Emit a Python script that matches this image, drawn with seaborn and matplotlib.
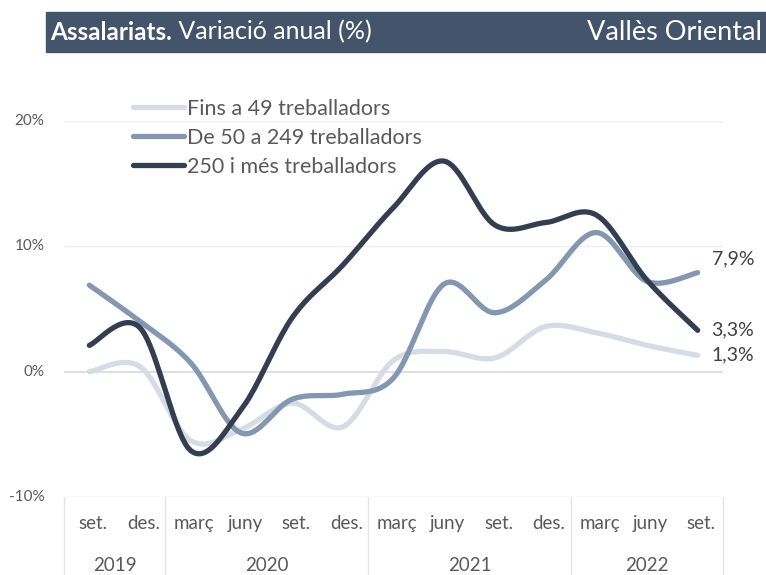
import numpy as np
import pandas as pd
import matplotlib.pyplot as plt
import seaborn as sns
from matplotlib.patches import Rectangle
from matplotlib.lines import Line2D

# quarterly categories (set. 2019 - set. 2022)
months = ['set.', 'des.', 'març', 'juny', 'set.', 'des.', 'març', 'juny',
          'set.', 'des.', 'març', 'juny', 'set.']
years = ['2019', '2020', '2021', '2022']
year_sizes = [2, 4, 4, 3]

# annual variation (%) by company size
fins_49 = [0.0, 0.4, -5.5, -4.6, -2.5, -4.4, 0.9, 1.6, 1.1, 3.6, 3.1, 2.1, 1.3]
de_50_249 = [6.9, 4.0, 0.7, -4.9, -2.2, -1.8, -0.5, 7.0, 4.7, 7.3, 11.1, 7.2, 7.9]
mes_250 = [2.1, 3.5, -6.3, -3.0, 4.3, 8.5, 13.1, 16.8, 11.7, 11.9, 12.5, 7.3, 3.3]

series_names = ['Fins a 49 treballadors', 'De 50 a 249 treballadors',
                '250 i més treballadors']
series_values = [fins_49, de_50_249, mes_250]
colors = ['#D6DCE5', '#8497B0', '#333F50']

FONT = 'Lato'
GREY = '#595959'


def smooth(x, y, steps=20):
    """Excel-like smoothed line (Catmull-Rom through the data points)."""
    x = np.asarray(x, float)
    y = np.asarray(y, float)
    px = np.concatenate([[x[0]], x, [x[-1]]])
    py = np.concatenate([[y[0]], y, [y[-1]]])
    xs, ys = [], []
    for i in range(1, len(px) - 2):
        t = np.linspace(0, 1, steps, endpoint=False)
        for p, out in ((px, xs), (py, ys)):
            p0, p1, p2, p3 = p[i - 1], p[i], p[i + 1], p[i + 2]
            c1 = p1 + (p2 - p0) / 6
            c2 = p2 - (p3 - p1) / 6
            out.extend((1 - t) ** 3 * p1 + 3 * (1 - t) ** 2 * t * c1
                       + 3 * (1 - t) * t ** 2 * c2 + t ** 3 * p2)
    xs.append(x[-1])
    ys.append(y[-1])
    return np.array(xs), np.array(ys)


sns.set_theme(style='white')
plt.rcParams['font.family'] = [FONT, 'DejaVu Sans']

fig = plt.figure(figsize=(7.66, 5.75), dpi=100)
W, H = 766, 575
ax = fig.add_axes([64 / W, 1 - 497 / H, (723 - 64) / W, (497 - 121) / H])

pos = np.arange(len(months))
rows = []
for name, vals in zip(series_names, series_values):
    sx, sy = smooth(pos, vals)
    rows.append(pd.DataFrame({'x': sx, 'y': sy, 'serie': name}))
df = pd.concat(rows, ignore_index=True)

sns.lineplot(data=df, x='x', y='y', hue='serie', palette=colors, sort=False,
             estimator=None, linewidth=3.8, legend=False, ax=ax,
             solid_capstyle='round')

ax.set_xlim(-0.5, len(months) - 0.5)
ax.set_ylim(-10, 20)
ax.set_yticks([-10, 0, 10, 20])
ax.set_yticklabels(['-10%', '0%', '10%', '20%'], fontsize=11, color=GREY)
ax.tick_params(axis='y', length=0, pad=14)
for lab in ax.get_yticklabels():
    lab.set_verticalalignment('center')
ax.set_xticks([])
ax.set_xlabel('')
ax.set_ylabel('')
for s in ax.spines.values():
    s.set_visible(False)
for v in (10, 20):
    ax.axhline(v, color='#EFEFEF', linewidth=1, zorder=0)
ax.axhline(0, color='#D9D9D9', linewidth=1.2, zorder=0)
ax.axhline(-10, color='#E4E4E4', linewidth=1, zorder=0)

# two-level category axis
trans = ax.get_xaxis_transform()
for p, m in zip(pos, months):
    ax.text(p + 0.07, -0.07, m, transform=trans, ha='center', va='center',
            fontsize=13.5, color=GREY)
edges = np.concatenate([[0], np.cumsum(year_sizes)]) - 0.5
for e in edges:
    ax.add_line(Line2D([e, e], [0, -0.21], transform=trans, color='#E4E4E4',
                       linewidth=1, clip_on=False))
for y, a, b in zip(years, edges[:-1], edges[1:]):
    ax.text((a + b) / 2, -0.182, y, transform=trans, ha='center',
            va='center', fontsize=13.5, color=GREY)

# end labels
offsets = [0, 10, 0]
for i in range(3):
    v = series_values[i][-1]
    ax.annotate(f'{v:.1f}%'.replace('.', ','), xy=(pos[-1], v),
                xytext=(10, offsets[i]), textcoords='offset points',
                ha='left', va='center', fontsize=14, color='#404040',
                annotation_clip=False)

# legend
handles = [Line2D([], [], color=c, linewidth=3.8, solid_capstyle='round')
           for c in colors]
leg = fig.legend(handles, series_names, loc='upper left',
                 bbox_to_anchor=(124 / W, 1 - 90 / H), frameon=False,
                 fontsize=15.5, handlelength=2.4, handletextpad=0.12,
                 labelspacing=0.42, labelcolor=GREY, borderaxespad=0)

# header bar
fig.add_artist(Rectangle((46 / W, 1 - 52 / H), 1 - 46 / W, 40 / H,
                         transform=fig.transFigure, color='#44546A',
                         zorder=0))
t1 = fig.text(50 / W, 1 - 32 / H, 'Assalariats.', fontsize=17.5,
              fontweight='bold', color='white', va='center', ha='left')
ax.annotate(' Variació anual (%)', xy=(1, 0), xycoords=t1, va='bottom',
            ha='left', fontsize=18, color='white')
fig.text(762 / W, 1 - 32 / H, 'Vallès Oriental', fontsize=19.5,
         color='white', va='center', ha='right')

fig.savefig('out.png', dpi=100)
